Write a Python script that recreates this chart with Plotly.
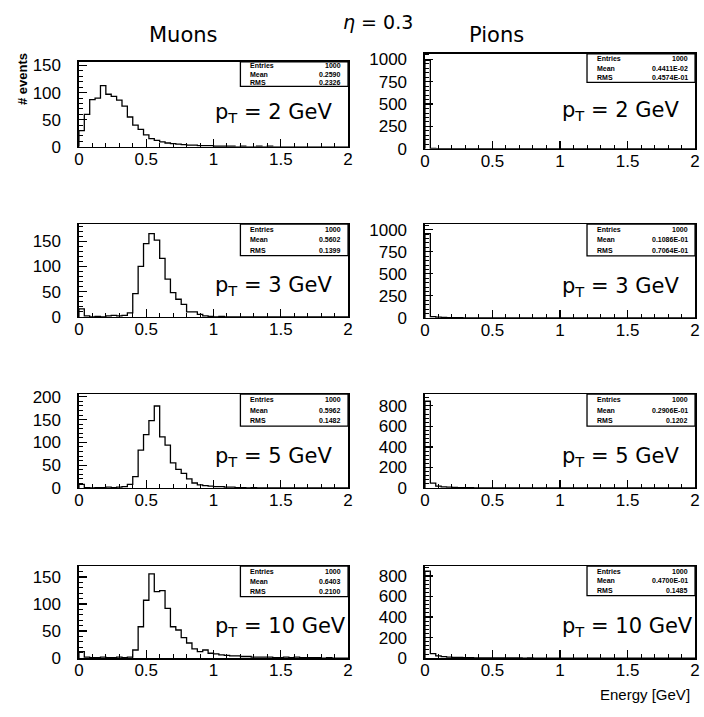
import numpy as np
import plotly.graph_objects as go

# ---------------- data ----------------
BIN_WIDTH = 0.04
N_BINS = 50
bin_edges = [round(i * BIN_WIDTH, 4) for i in range(N_BINS + 1)]

muon_pt2 = [30, 60, 87, 90, 113, 97, 93, 86, 75, 55,
            40, 32, 22, 15, 12, 9, 7, 6, 5, 4,
            3, 3, 2, 2, 2, 1, 1, 1, 1, 0,
            1, 0, 0, 1, 0, 1, 0, 0, 0, 0,
            0, 0, 0, 0, 0, 0, 0, 0, 0, 0]
muon_pt3 = [16, 2, 0, 1, 0, 2, 3, 2, 3, 8,
            46, 100, 145, 165, 152, 116, 75, 48, 35, 25,
            10, 10, 5, 2, 1, 0, 1, 0, 0, 0,
            0, 0, 0, 0, 0, 0, 0, 0, 0, 0,
            0, 0, 0, 0, 0, 0, 0, 0, 0, 0]
muon_pt5 = [8, 1, 0, 1, 1, 2, 1, 2, 3, 8,
            25, 83, 117, 148, 180, 112, 94, 55, 41, 32,
            20, 11, 7, 5, 4, 3, 3, 2, 2, 1,
            1, 0, 1, 0, 0, 0, 0, 0, 0, 0,
            0, 0, 0, 0, 0, 0, 0, 0, 0, 0]
muon_pt10 = [12, 2, 1, 1, 2, 1, 1, 2, 1, 2,
             15, 58, 107, 156, 123, 125, 92, 58, 52, 38,
             28, 17, 12, 15, 9, 8, 6, 5, 4, 4,
             3, 3, 2, 2, 2, 2, 1, 1, 2, 1,
             2, 1, 1, 1, 1, 0, 1, 0, 0, 0]
pion_pt2 = [990, 5, 2, 1, 1, 1, 0, 0, 0, 0,
            0, 0, 0, 0, 0, 0, 0, 0, 0, 0,
            0, 0, 0, 0, 0, 0, 0, 0, 0, 0,
            0, 0, 0, 0, 0, 0, 0, 0, 0, 0,
            0, 0, 0, 0, 0, 0, 0, 0, 0, 0]
pion_pt3 = [955, 15, 8, 5, 3, 2, 2, 1, 1, 1,
            1, 0, 0, 0, 0, 0, 0, 0, 0, 0,
            0, 0, 0, 0, 0, 0, 0, 0, 0, 0,
            0, 0, 0, 0, 0, 0, 0, 0, 0, 0,
            0, 0, 0, 0, 0, 0, 0, 0, 0, 0]
pion_pt5 = [845, 48, 18, 10, 8, 5, 4, 3, 3, 2,
            2, 2, 1, 1, 1, 0, 1, 0, 0, 0,
            0, 0, 0, 0, 0, 0, 0, 0, 0, 0,
            0, 0, 0, 0, 0, 0, 0, 0, 0, 0,
            0, 0, 0, 0, 0, 0, 0, 0, 0, 0]
pion_pt10 = [848, 44, 22, 14, 10, 8, 6, 5, 4, 3,
             3, 2, 2, 2, 1, 1, 1, 1, 0, 1,
             0, 0, 0, 0, 0, 0, 0, 0, 0, 0,
             0, 0, 0, 0, 0, 0, 0, 0, 0, 0,
             0, 0, 0, 0, 0, 0, 0, 0, 0, 0]

pt_labels = ["2", "3", "5", "10"]
muon_stats = [("1000", "0.2590", "0.2326"), ("1000", "0.5602", "0.1399"),
              ("1000", "0.5962", "0.1482"), ("1000", "0.6403", "0.2100")]
pion_stats = [("1000", "0.4411E-02", "0.4574E-01"), ("1000", "0.1086E-01", "0.7064E-01"),
              ("1000", "0.2906E-01", "0.1202"), ("1000", "0.4700E-01", "0.1485")]
muon_series = [muon_pt2, muon_pt3, muon_pt5, muon_pt10]
pion_series = [pion_pt2, pion_pt3, pion_pt5, pion_pt10]

# ---------------- layout geometry (pixels) ----------------
W, H = 704, 717
muon_x = (75, 348)
pion_x = (426, 700)
muon_rows = [(57, 144), (223, 318), (397, 493), (573, 667)]
pion_rows = [(49, 146), (223, 319), (397, 493), (573, 667)]
muon_yr = [(0, 157), (0, 184), (0, 206), (0, 170)]
pion_yr = [(0, 1062), (0, 1065), (0, 914), (0, 895)]
muon_ytick = [(50, 10), (50, 10), (50, 10), (50, 10)]
pion_ytick = [(250, 50), (250, 50), (200, 40), (200, 40)]
muon_box_h = [0.29, 0.34, 0.34, 0.33]
pion_box_h = [0.30, 0.34, 0.34, 0.32]
label_y = [0.40, 0.33, 0.33, 0.34]

FONT = "Liberation Sans"
TFONT = "DejaVu Sans"

fig = go.Figure()
layout = dict(width=W, height=H, margin=dict(l=0, r=0, t=0, b=0),
              paper_bgcolor="white", plot_bgcolor="white", showlegend=False,
              autosize=False)
annotations = []
shapes = []

panels = []
for r in range(4):
    panels.append(("mu", r, muon_series[r], muon_x, muon_rows[r], muon_yr[r], muon_ytick[r], muon_stats[r], muon_box_h[r]))
    panels.append(("pi", r, pion_series[r], pion_x, pion_rows[r], pion_yr[r], pion_ytick[r], pion_stats[r], pion_box_h[r]))

for i, (kind, r, vals, xpx, ypx, yr, ytk, stats, bh) in enumerate(panels):
    s = "" if i == 0 else str(i + 1)
    xs = [bin_edges[0]] + bin_edges
    ys = [0] + list(vals) + [0]
    fig.add_trace(go.Scatter(x=xs, y=ys, mode="lines",
                             line=dict(color="black", width=1.3, shape="hv"),
                             xaxis="x" + s, yaxis="y" + s, hoverinfo="skip",
                             cliponaxis=True))
    xdom = [xpx[0] / W, xpx[1] / W]
    ydom = [1 - ypx[1] / H, 1 - ypx[0] / H]
    layout["xaxis" + s] = dict(domain=xdom, anchor="y" + s, range=[0, 2],
                               tick0=0, dtick=0.5, ticks="inside", ticklen=8,
                               tickwidth=1.2, tickcolor="black",
                               minor=dict(ticks="inside", dtick=0.1, ticklen=4,
                                          tickwidth=1, tickcolor="black"),
                               showline=True, mirror=True, linecolor="black",
                               linewidth=1.5, showgrid=False, zeroline=False,
                               tickfont=dict(family=FONT, size=17, color="black"),
                               ticklabelstandoff=-4, fixedrange=True)
    layout["yaxis" + s] = dict(domain=ydom, anchor="x" + s, range=list(yr),
                               tick0=0, dtick=ytk[0], ticks="inside", ticklen=8,
                               tickwidth=1.2, tickcolor="black",
                               minor=dict(ticks="inside", dtick=ytk[1], ticklen=4,
                                          tickwidth=1, tickcolor="black"),
                               showline=True, mirror=True, linecolor="black",
                               linewidth=1.5, showgrid=False, zeroline=False,
                               tickfont=dict(family=FONT, size=17, color="black"),
                               ticklabelstandoff=13, fixedrange=True)
    xr = "x" + s + " domain"
    yrf = "y" + s + " domain"
    # pT label
    annotations.append(dict(xref=xr, yref=yrf, x=0.5, y=label_y[r], xanchor="left",
                            yanchor="middle", showarrow=False,
                            text="p<sub>T</sub> = " + pt_labels[r] + " GeV",
                            font=dict(family=TFONT, size=21, color="black")))
    # stats box
    x0 = 0.6
    shapes.append(dict(type="rect", xref=xr, yref=yrf, x0=x0, x1=1,
                       y0=1 - bh, y1=1, line=dict(color="black", width=1.3),
                       fillcolor="white", layer="above"))
    names = ["Entries", "Mean", "RMS"]
    for k in range(3):
        yy = 1 - bh * (2 * k + 1) / 6
        annotations.append(dict(xref=xr, yref=yrf, x=x0 + 0.03, y=yy,
                                xanchor="left", yanchor="middle", showarrow=False,
                                text="<b>" + names[k] + "</b>",
                                font=dict(family=FONT, size=7, color="black")))
        annotations.append(dict(xref=xr, yref=yrf, x=0.98, y=yy,
                                xanchor="right", yanchor="middle", showarrow=False,
                                text="<b>" + stats[k] + "</b>",
                                font=dict(family=FONT, size=7, color="black")))

# titles
annotations.append(dict(xref="paper", yref="paper", x=181 / W, y=1 - 30 / H,
                        xanchor="center", yanchor="middle", showarrow=False,
                        text="Muons", font=dict(family=TFONT, size=21, color="black")))
annotations.append(dict(xref="paper", yref="paper", x=499 / W, y=1 - 30 / H,
                        xanchor="center", yanchor="middle", showarrow=False,
                        text="Pions", font=dict(family=TFONT, size=21, color="black")))
annotations.append(dict(xref="paper", yref="paper", x=378 / W, y=1 - 16 / H,
                        xanchor="center", yanchor="middle", showarrow=False,
                        text="<i>η</i> = 0.3", font=dict(family=TFONT, size=19, color="black")))
annotations.append(dict(xref="paper", yref="paper", x=18 / W, y=1 - 75 / H,
                        xanchor="center", yanchor="middle", showarrow=False,
                        textangle=-90, text="<b># events</b>",
                        font=dict(family=FONT, size=13, color="black")))
annotations.append(dict(xref="paper", yref="paper", x=697 / W, y=1 - 704 / H,
                        xanchor="right", yanchor="middle", showarrow=False,
                        text="Energy [GeV]", font=dict(family=FONT, size=15, color="black")))

layout["annotations"] = annotations
layout["shapes"] = shapes
fig.update_layout(**layout)
fig.write_html("out.html", config={"displayModeBar": False, "staticPlot": True})
